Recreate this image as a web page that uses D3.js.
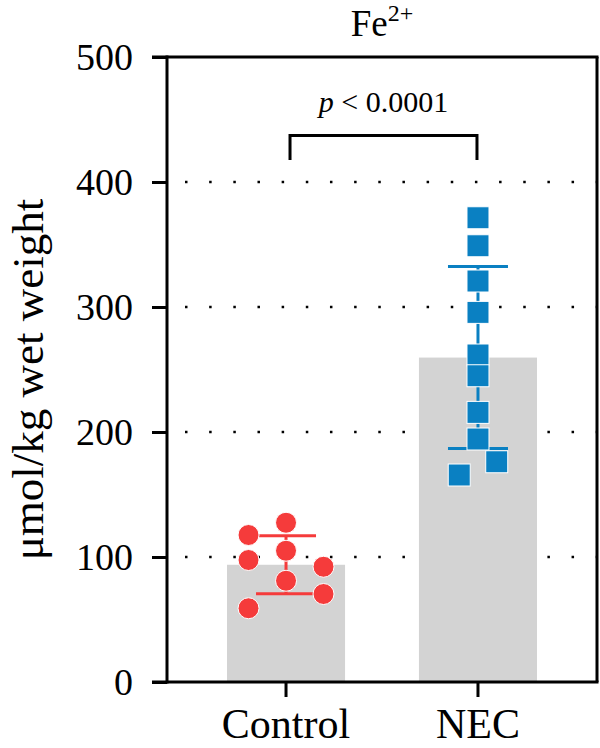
<!DOCTYPE html>
<html lang="en">
<head>
<meta charset="UTF-8">
<title>Fe2+ - Control vs NEC</title>
<script src="https://d3js.org/d3.v7.min.js"></script>
<style>
    body { margin: 0; background: #fff; }
    svg text { font-family: "Liberation Serif", "Times New Roman", serif; fill: #000; }
</style>
</head>
<body>
<div id="chart"></div>
<script>
    // data
    const groups = ["Control", "NEC"];
    const controlValues = [117.6, 127.4, 97.6, 105, 92.2, 81, 70.4, 59];
    const controlCols   = [-1, 0, -1, 0, 1, 0, 1, -1];
    const necValues = [371.4, 349, 320.8, 295.7, 261.6, 245, 215.7, 194.4, 176.2, 165.6];
    const necCols   = [0, 0, 0, 0, 0, 0, 0, 0, 0.5, -0.5];
    const yTicks = [0, 100, 200, 300, 400, 500];
    const gridTicks = [100, 200, 300, 400];
    const pLabel = "p";
    const pText = " < 0.0001";

    const width = 600, height = 748;
    const plotLeft = 167, plotRight = 597, plotTop = 57, plotBottom = 682;

    const svg = d3.select("#chart").append("svg")
        .attr("width", width)
        .attr("height", height);

    const y = d3.scaleLinear().domain([0, 500]).range([plotBottom, plotTop]);
    const x = d3.scaleBand().domain(groups).range([plotLeft, plotRight])
        .paddingInner(0.385).paddingOuter(0.3125);

    const series = [
        { name: "Control", values: controlValues, cols: controlCols, color: "#f53b3b", shape: "circle" },
        { name: "NEC", values: necValues, cols: necCols, color: "#0a80c2", shape: "square" }
    ];
    series.forEach(s => {
        s.mean = d3.mean(s.values);
        s.sd = d3.deviation(s.values);
    });

    // dotted grid
    svg.selectAll(".grid").data(gridTicks).enter().append("line")
        .attr("x1", plotLeft + 18).attr("x2", plotRight)
        .attr("y1", d => y(d)).attr("y2", d => y(d))
        .attr("stroke", "#000")
        .attr("stroke-width", 2.5)
        .attr("stroke-dasharray", "2.5,21.66");

    // bars
    svg.selectAll(".bar").data(series).enter().append("rect")
        .attr("x", d => x(d.name))
        .attr("width", x.bandwidth())
        .attr("y", d => y(d.mean))
        .attr("height", d => y(0) - y(d.mean))
        .attr("fill", "#d3d3d3");

    // error bars (mean +/- SD)
    const capHalf = 30;
    series.forEach(s => {
        const cx = x(s.name) + x.bandwidth() / 2;
        const g = svg.append("g").attr("stroke", s.color).attr("stroke-width", 3);
        g.append("line").attr("x1", cx).attr("x2", cx)
            .attr("y1", y(s.mean + s.sd)).attr("y2", y(s.mean - s.sd));
        [s.mean + s.sd, s.mean - s.sd].forEach(v => {
            g.append("line").attr("x1", cx - capHalf).attr("x2", cx + capHalf)
                .attr("y1", y(v)).attr("y2", y(v));
        });
    });

    // points
    const colStep = 37.5;
    series.forEach(s => {
        const cx = x(s.name) + x.bandwidth() / 2;
        const pts = s.values.map((v, i) => ({ v, c: s.cols[i] }));
        if (s.shape === "circle") {
            svg.selectAll(null).data(pts).enter().append("circle")
                .attr("cx", d => cx + d.c * colStep)
                .attr("cy", d => y(d.v))
                .attr("r", 10.5)
                .attr("fill", s.color)
                .attr("stroke", "#fff").attr("stroke-width", 1);
        } else {
            const sz = 22;
            svg.selectAll(null).data(pts).enter().append("rect")
                .attr("x", d => cx + d.c * colStep - sz / 2)
                .attr("y", d => y(d.v) - sz / 2)
                .attr("width", sz).attr("height", sz)
                .attr("fill", s.color)
                .attr("stroke", "#fff").attr("stroke-width", 1);
        }
    });

    // axes
    const yAxis = svg.append("g")
        .attr("transform", `translate(${plotLeft},0)`)
        .call(d3.axisLeft(y).tickValues(yTicks).tickSize(15).tickPadding(19));
    yAxis.selectAll("text").attr("font-size", 38);

    const xAxis = svg.append("g")
        .attr("transform", `translate(0,${plotBottom})`)
        .call(d3.axisBottom(x).tickSize(15).tickSizeOuter(0));
    xAxis.selectAll("text").attr("font-size", 42).attr("y", 56).attr("dy", 0);

    [yAxis, xAxis].forEach(a => {
        a.selectAll("line, path").attr("stroke", "#000").attr("stroke-width", 3);
        a.attr("font-family", null);
    });
    yAxis.select(".domain").remove();
    xAxis.select(".domain").remove();

    // frame
    const frame = svg.append("g").attr("stroke", "#000").attr("stroke-width", 3).attr("fill", "none");
    frame.append("line").attr("x1", plotLeft).attr("x2", plotLeft).attr("y1", plotTop - 1.5).attr("y2", plotBottom + 1.5);
    frame.append("line").attr("x1", plotLeft - 15).attr("x2", plotRight + 1.5).attr("y1", plotBottom).attr("y2", plotBottom);
    frame.append("line").attr("x1", plotLeft - 15).attr("x2", plotRight + 1.5).attr("y1", plotTop).attr("y2", plotTop);
    frame.append("line").attr("x1", plotRight).attr("x2", plotRight).attr("y1", plotTop).attr("y2", plotBottom);

    // significance bracket
    const bx1 = x("Control") + x.bandwidth() / 2 + 4;
    const bx2 = x("NEC") + x.bandwidth() / 2 - 1;
    svg.append("path")
        .attr("d", `M${bx1},160 V135.5 H${bx2} V160`)
        .attr("fill", "none").attr("stroke", "#000").attr("stroke-width", 3);
    const pt = svg.append("text")
        .attr("x", (bx1 + bx2) / 2).attr("y", 112)
        .attr("text-anchor", "middle").attr("font-size", 30);
    pt.append("tspan").attr("font-style", "italic").text(pLabel);
    pt.append("tspan").text(pText);

    // title
    const title = svg.append("text")
        .attr("x", (plotLeft + plotRight) / 2).attr("y", 36)
        .attr("text-anchor", "middle").attr("font-size", 37);
    title.append("tspan").text("Fe");
    title.append("tspan").attr("font-size", 24).attr("dy", -15).text("2+");

    // y label
    svg.append("text")
        .attr("transform", `translate(43,${(plotTop + plotBottom) / 2 + 10}) rotate(-90)`)
        .attr("text-anchor", "middle")
        .attr("font-size", 45)
        .text("μmol/kg wet weight");
</script>
</body>
</html>
